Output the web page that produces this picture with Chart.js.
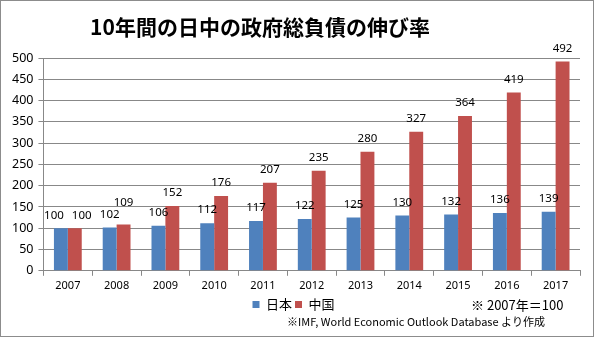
<!DOCTYPE html>
<html>
<head>
<meta charset="utf-8">
<script src="https://cdn.jsdelivr.net/npm/chart.js@4/dist/chart.umd.min.js"></script>
<style>
  html, body { margin: 0; padding: 0; background: #fff; }
  #wrap { width: 592px; height: 335px; border: 1px solid #8c8c8c; }
</style>
</head>
<body>
<div id="wrap"><canvas id="debtChart" width="592" height="335"></canvas></div>
<script>
const years = ["2007", "2008", "2009", "2010", "2011", "2012", "2013", "2014", "2015", "2016", "2017"];
const japan = [100, 102, 106, 112, 117, 122, 125, 130, 132, 136, 139];
const china = [100, 109, 152, 176, 207, 235, 280, 327, 364, 419, 492];
const yTicks = [0, 50, 100, 150, 200, 250, 300, 350, 400, 450, 500];

const labelFont = "11.5px 'Noto Sans', sans-serif";

// value labels above bars, nudged apart when the pair would overlap
const barLabels = {
  id: "barLabels",
  afterDatasetsDraw(chart) {
    const ctx = chart.ctx;
    const a = chart.getDatasetMeta(0).data;
    const b = chart.getDatasetMeta(1).data;
    ctx.save();
    ctx.font = labelFont;
    ctx.fillStyle = "#000";
    ctx.textAlign = "center";
    ctx.textBaseline = "middle";
    a.forEach((barA, i) => {
      const barB = b[i];
      let xa = barA.x, ya = barA.y - 13;
      let xb = barB.x, yb = barB.y - 13;
      const w = ctx.measureText(String(japan[i])).width;
      if (Math.abs(ya - yb) < 12 && xb - xa < w + 4) {
        if (japan[i] === china[i]) {
          const push = (w + 8 - (xb - xa)) / 2;
          xa -= push; xb += push;
        } else {
          yb = ya - 12;
        }
      }
      ctx.fillText(String(japan[i]), xa, ya);
      ctx.fillText(String(china[i]), xb, yb);
    });
    ctx.restore();
  }
};

// title and source notes
const texts = {
  id: "texts",
  afterDraw(chart) {
    const ctx = chart.ctx;
    ctx.save();
    ctx.fillStyle = "#000";
    ctx.textBaseline = "middle";
    ctx.textAlign = "center";
    ctx.font = "bold 21px 'Noto Sans CJK JP', sans-serif";
    ctx.fillText("10年間の日中の政府総負債の伸び率", 259, 26);
    ctx.textAlign = "left";
    ctx.font = "13px 'Noto Sans CJK JP', sans-serif";
    ctx.fillText("※ 2007年＝100", 470, 304);
    ctx.font = "11px 'Noto Sans CJK JP', sans-serif";
    ctx.fillText("※IMF, World Economic Outlook Database より作成", 286, 321);
    ctx.restore();
  }
};

new Chart("debtChart", {
  type: "bar",
  data: {
    labels: years,
    datasets: [
      { label: "日本", data: japan, backgroundColor: "#4F81BD" },
      { label: "中国", data: china, backgroundColor: "#C0504D" }
    ]
  },
  options: {
    responsive: false,
    animation: false,
    categoryPercentage: 0.57,
    barPercentage: 1.0,
    layout: { padding: { left: 6, right: 13, top: 57, bottom: 15 } },
    plugins: {
      title: { display: false },
      legend: {
        position: "bottom",
        labels: {
          boxWidth: 7,
          boxHeight: 7,
          padding: 3,
          color: "#000",
          font: { family: "'Noto Sans CJK JP'", size: 13 }
        }
      },
      tooltip: { enabled: false }
    },
    scales: {
      x: {
        grid: {
          display: true,
          drawOnChartArea: false,
          drawTicks: true,
          tickLength: 5,
          color: "#888",
          offset: true
        },
        border: { color: "#888" },
        ticks: { color: "#000", font: { family: "'Noto Sans'", size: 11 }, padding: 3 }
      },
      y: {
        min: 0,
        max: 500,
        afterBuildTicks(axis) { axis.ticks = yTicks.map(v => ({ value: v })); },
        grid: { color: "#888", tickLength: 5 },
        border: { color: "#888" },
        ticks: { color: "#000", font: { family: "'Noto Sans'", size: 12.5 }, padding: 5 }
      }
    }
  },
  plugins: [barLabels, texts]
});
</script>
</body>
</html>
